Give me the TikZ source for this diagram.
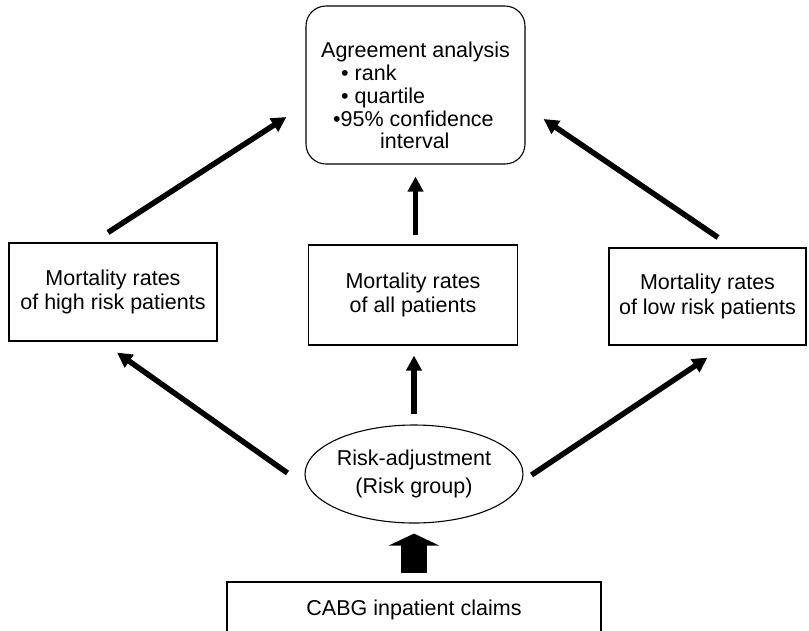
\documentclass[tikz,border=0pt]{standalone}
\usepackage{fontspec}
\setmainfont{Liberation Sans}
\usetikzlibrary{arrows.meta,shapes.geometric,calc}
\begin{document}
\begin{tikzpicture}[x=1pt,y=-1pt,
  box/.style={draw,line width=1.1pt,inner sep=0pt,align=center,font=\fontsize{21.5}{24.5}\selectfont},
  arr/.style={line width=5.5pt,-{Triangle[length=15pt,width=15pt]}},
  blockarr/.style={line width=26pt,-{Triangle[length=12pt,width=50pt]}}]
\useasboundingbox (0,0) rectangle (809,630);
\clip (0,0) rectangle (809,630);

\node[box,rounded corners=20pt,minimum width=219pt,minimum height=158pt] (agree) at (415.5,85) {};
\node[anchor=north west,inner sep=0pt,align=left,font=\fontsize{21.5}{22.75}\selectfont] (agreetxt) at (321,42)
  {Agreement analysis\\\hspace*{20pt}• rank\\\hspace*{20pt}• quartile\\\hspace*{12pt}•95\% confidence\\\hspace*{59pt}interval};

\node[box,minimum width=208pt,minimum height=98pt] (high) at (113,292) {Mortality rates\\of high risk patients};
\node[box,minimum width=209pt,minimum height=100pt] (all) at (413,295) {Mortality rates\\of all patients};
\node[box,minimum width=197pt,minimum height=97pt] (low) at (707.5,296.5) {Mortality rates\\of low risk patients};
\node[box,ellipse,minimum width=212pt,minimum height=98pt,font=\fontsize{21.5}{28}\selectfont] (risk) at (414,474) {Risk-adjustment\\(Risk group)};
\node[box,minimum width=374pt,minimum height=56pt] (cabg) at (414,610) {CABG inpatient claims};

% upper arrows
\draw[arr] ([xshift=-5pt,yshift=10pt]high.north) -- ([xshift=-19pt,yshift=-32pt]agree.west);
\draw[arr] ([yshift=9pt]all.north -| agree.south) -- ([yshift=-12pt]agree.south);
\draw[arr] ([xshift=10.5pt,yshift=10pt]low.north) -- ([xshift=18pt,yshift=-34pt]agree.east);

% lower arrows
\draw[arr] ([xshift=-17pt,yshift=1pt]risk.west) -- ([xshift=4pt,yshift=-11pt]high.south);
\draw[arr] ([yshift=10pt]risk.north) -- ([yshift=-10pt]all.south -| risk.north);
\draw[arr] ([xshift=8pt,yshift=-1pt]risk.east) -- ([yshift=-12pt]low.south);

% block arrow
\draw[blockarr] ([yshift=8pt]cabg.north) -- ([yshift=-10pt]risk.south -| cabg.north);
\end{tikzpicture}
\end{document}
